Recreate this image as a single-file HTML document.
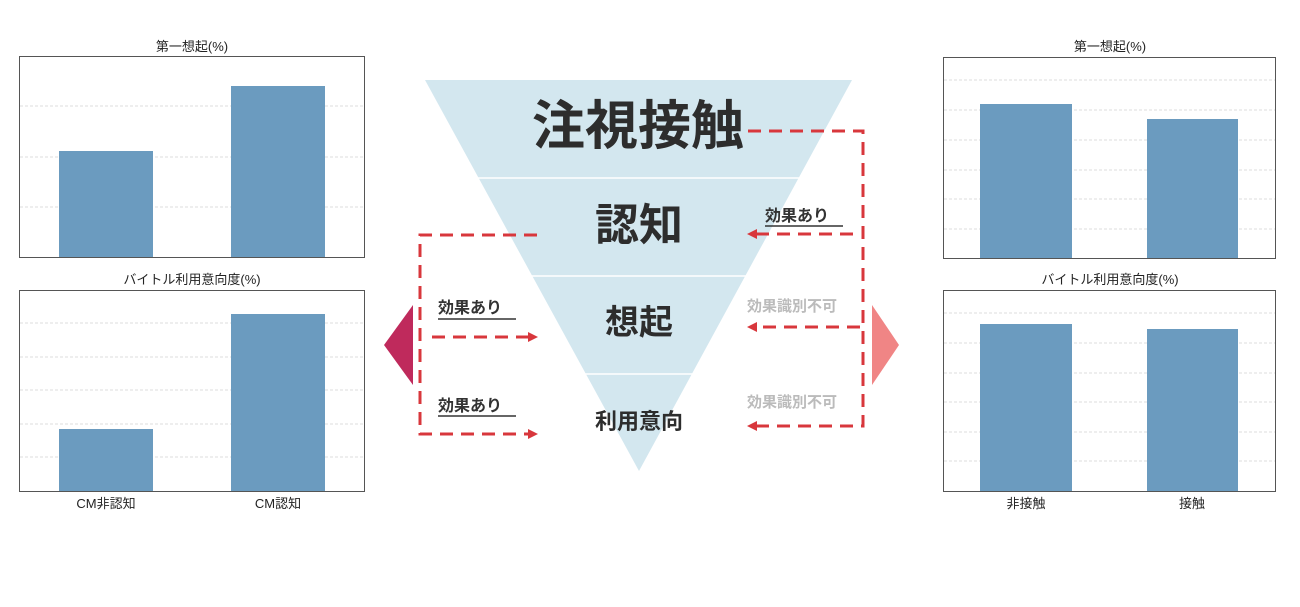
<!DOCTYPE html>
<html><head><meta charset="utf-8"><style>
html,body{margin:0;padding:0;background:#fff;}
svg{display:block;}
text{font-family:"Liberation Sans","Noto Sans CJK JP",sans-serif;}
</style></head><body>
<svg width="1300" height="607" viewBox="0 0 1300 607" xmlns="http://www.w3.org/2000/svg">
<rect width="1300" height="607" fill="#fff"/>
<g stroke="#ddd" stroke-dasharray="3,2" stroke-width="1">
<line x1="20" y1="106" x2="364" y2="106"/><line x1="20" y1="157" x2="364" y2="157"/><line x1="20" y1="207" x2="364" y2="207"/>
<line x1="20" y1="323" x2="364" y2="323"/><line x1="20" y1="357" x2="364" y2="357"/><line x1="20" y1="390" x2="364" y2="390"/><line x1="20" y1="424" x2="364" y2="424"/><line x1="20" y1="457" x2="364" y2="457"/>
<line x1="944" y1="80" x2="1275" y2="80"/><line x1="944" y1="110" x2="1275" y2="110"/><line x1="944" y1="140" x2="1275" y2="140"/><line x1="944" y1="170" x2="1275" y2="170"/><line x1="944" y1="199" x2="1275" y2="199"/><line x1="944" y1="229" x2="1275" y2="229"/>
<line x1="944" y1="313" x2="1275" y2="313"/><line x1="944" y1="343" x2="1275" y2="343"/><line x1="944" y1="373" x2="1275" y2="373"/><line x1="944" y1="402" x2="1275" y2="402"/><line x1="944" y1="432" x2="1275" y2="432"/><line x1="944" y1="461" x2="1275" y2="461"/>
</g>
<g fill="#6b9bbf">
<rect x="59" y="151" width="94" height="106"/><rect x="231" y="86" width="94" height="171"/>
<rect x="59" y="429" width="94" height="62"/><rect x="231" y="314" width="94" height="177"/>
<rect x="980" y="104" width="92" height="154"/><rect x="1147" y="119" width="91" height="139"/>
<rect x="980" y="324" width="92" height="167"/><rect x="1147" y="329" width="91" height="162"/>
</g>
<g fill="none" stroke="#555" stroke-width="1">
<rect x="19.5" y="56.5" width="345" height="201"/><rect x="19.5" y="290.5" width="345" height="201"/>
<rect x="943.5" y="57.5" width="332" height="201"/><rect x="943.5" y="290.5" width="332" height="201"/>
</g>
<g font-size="13" fill="#222" text-anchor="middle">
<text x="192" y="51">第一想起(%)</text><text x="192" y="284">バイトル利用意向度(%)</text>
<text x="106" y="508">CM非認知</text><text x="278" y="508">CM認知</text>
<text x="1110" y="51">第一想起(%)</text><text x="1110" y="284">バイトル利用意向度(%)</text>
<text x="1026" y="508">非接触</text><text x="1192" y="508">接触</text>
</g>
<polygon points="425,80 852,80 639,471" fill="#d3e7ef"/>
<g stroke="#fff" stroke-width="1.5"><line x1="470" y1="178" x2="810" y2="178"/><line x1="520" y1="276" x2="760" y2="276"/><line x1="570" y1="374" x2="710" y2="374"/></g>
<g fill="#2d2d2d" font-weight="bold" text-anchor="middle">
<text x="638" y="144" font-size="53">注視接触</text>
<text x="639" y="240" font-size="44">認知</text>
<text x="639" y="334" font-size="34">想起</text>
<text x="639" y="429" font-size="22">利用意向</text>
</g>
<polygon points="384,345 413,305 413,385" fill="#bf2a5c"/>
<polygon points="899,345 872,305 872,385" fill="#f08585"/>
<g fill="none" stroke="#d8373c" stroke-width="3" stroke-dasharray="13,8">
<polyline points="537,235 420,235 420,434 530,434"/>
<line x1="432" y1="337" x2="530" y2="337"/>
<polyline points="748,131 863,131 863,426 756,426"/>
<line x1="853" y1="234" x2="756" y2="234"/>
<line x1="860" y1="327" x2="756" y2="327"/>
</g>
<g fill="#d8373c">
<polygon points="538,337 528,332 528,342"/><polygon points="538,434 528,429 528,439"/>
<polygon points="747,234 757,229 757,239"/><polygon points="747,327 757,322 757,332"/><polygon points="747,426 757,421 757,431"/>
</g>
<g font-size="16" font-weight="bold" fill="#333">
<text x="438" y="313">効果あり</text><text x="438" y="411">効果あり</text><text x="765" y="221">効果あり</text>
</g>
<g stroke="#333" stroke-width="1.5"><line x1="438" y1="319" x2="516" y2="319"/><line x1="438" y1="416" x2="516" y2="416"/><line x1="765" y1="226" x2="843" y2="226"/></g>
<g font-size="15" font-weight="bold" fill="#bbb"><text x="747" y="311">効果識別不可</text><text x="747" y="407">効果識別不可</text></g>
</svg>
</body></html>
